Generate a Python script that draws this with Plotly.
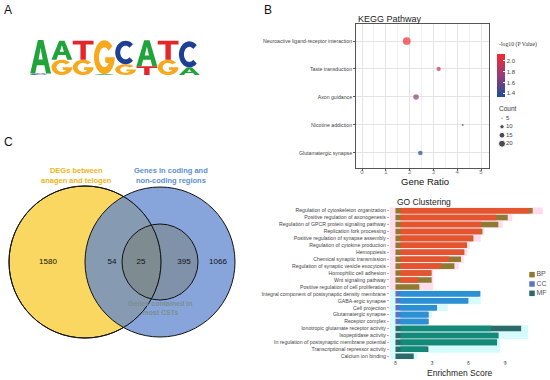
import math
import plotly.graph_objects as go

W, H = 550, 380
FONT = "Liberation Sans, Arial, Helvetica, sans-serif"
SERIF = "Liberation Serif, Times New Roman, serif"

# ---------------- data ----------------
# Panel A: motif logo, information content (bits) per letter
logo_positions = [1, 2, 3, 4, 5, 6, 7, 8]
logo_A = [1.86, 1.05, 0.00, 0.05, 0.00, 1.45, 0.00, 0.42]
logo_C = [0.08, 0.00, 0.00, 0.00, 1.30, 0.00, 0.00, 1.45]
logo_G = [0.00, 0.85, 0.85, 1.88, 0.60, 0.00, 0.85, 0.00]
logo_T = [0.00, 0.00, 1.05, 0.00, 0.00, 0.48, 1.05, 0.00]

# Panel B: KEGG pathway
kegg_terms = ["Neuroactive ligand-receptor interaction", "Taste transduction",
              "Axon guidance", "Nicotine addiction", "Glutamatergic synapse"]
kegg_ratio = [1.88, 3.22, 2.27, 4.23, 2.45]
kegg_logp = [2.12, 1.92, 1.72, 1.55, 1.34]
kegg_count = [24, 10, 14, 5, 11]
count_legend = [5, 10, 15, 20]
logp_ticks = [1.4, 1.6, 1.8, 2.0]

# Panel C: Venn
venn_titles = ["DEGs between<br>anagen and telogen",
               "Genes in coding and<br>non-coding regions",
               "Genes contained in<br>most CSTs"]
venn_counts = [1580, 54, 25, 395, 1066]

# GO clustering
go_terms = ["Regulation of cytoskeleton organization", "Positive regulation of axonogenesis",
            "Regulation of GPCR protein signaling pathway", "Replication fork processing",
            "Positive regulation of synapse assembly", "Regulation of cytokine production",
            "Hemopoiesis", "Chemical synaptic transmission",
            "Regulation of synaptic vesicle exocytosis", "Homophilic cell adhesion",
            "Wnt signaling pathway", "Positive regulation of cell proliferation",
            "Integral component of postsynaptic density membrane", "GABA-ergic synapse",
            "Cell projection", "Glutamatergic synapse", "Receptor complex",
            "Ionotropic glutamate receptor activity", "Isopeptidase activity",
            "In regulation of postsynaptic membrane potential",
            "Transcriptional repressor activity", "Calcium ion binding"]
go_class = ["BP"] * 12 + ["CC"] * 5 + ["MF"] * 5
go_score = [11.27, 9.22, 8.45, 7.14, 6.40, 5.88, 5.66, 5.38, 4.84, 2.97, 2.97, 1.96,
            6.97, 5.99, 3.41, 2.73, 2.73, 10.32, 8.45, 8.34, 2.70, 1.50]
go_inner = [11.00, 8.26, 7.03, 7.03, 6.34, 5.80, 5.60, 4.42, 3.74, 2.92, 1.82, 0.0,
            6.90, 5.93, 3.35, 2.64, 2.64, 7.85, 8.45, 8.34, 2.56, 0.0]
go_band = [12.1, 9.6, 8.8, 7.3, 7.0, 6.1, 5.9, 5.6, 5.2, 3.1, 3.1, 3.1,
           7.0, 7.0, 4.3, 3.0, 2.7, 10.9, 10.9, 8.6, 8.6, 1.8]
go_classes = ["BP", "CC", "MF"]

# ---------------- styles ----------------
LETTER_COLORS = {"A": "#21a33b", "C": "#1d3f95", "G": "#f7a81c", "T": "#e4262b"}
CLASS_BASE = {"BP": "#8f7a31", "CC": "#5a74c6", "MF": "#2e6a69"}
CLASS_TOP = {"BP": "#e5532f", "CC": "#2b91d4", "MF": "#13897a"}
CLASS_BAND = {"BP": "#ffdcec", "CC": "#d6fbfd", "MF": "#d6fbfd"}


def xd(a, b):
    return [a / W, b / W]


def yd(top, bottom):
    return [1 - bottom / H, 1 - top / H]


def arc(cx, cy, rx, ry, a0, a1, n=30):
    pts = []
    for k in range(n + 1):
        a = math.radians(a0 + (a1 - a0) * k / n)
        pts.append((cx + rx * math.cos(a), cy + ry * math.sin(a)))
    return pts


GLYPHS = {
    "A": [[(0, 0), (0.37, 1), (0.63, 1), (1, 0), (0.76, 0), (0.68, 0.25), (0.32, 0.25), (0.24, 0)],
          [(0.40, 0.42), (0.60, 0.42), (0.5, 0.76)]],
    "T": [[(0, 1), (1, 1), (1, 0.8), (0.63, 0.8), (0.63, 0), (0.37, 0), (0.37, 0.8), (0, 0.8)]],
    "C": [arc(0.5, 0.5, 0.5, 0.5, 45, 315) + arc(0.5, 0.5, 0.26, 0.29, 315, 45)],
    "G": [arc(0.5, 0.5, 0.5, 0.5, 40, 360) + [(0.54, 0.5), (0.54, 0.34)]
          + arc(0.5, 0.5, 0.26, 0.29, 322, 40)],
}


def kegg_size(c):
    lo, hi = min(kegg_count), max(kegg_count)
    return math.sqrt(4 + (c - lo) / (hi - lo) * 56)


fig = go.Figure()
shapes = []
annotations = []

# ---------------- Panel A: logo ----------------
fig.add_trace(go.Scatter(x=logo_positions, y=[0] * len(logo_positions), xaxis="x", yaxis="y",
                         mode="markers", marker=dict(opacity=0), hoverinfo="skip", showlegend=False))
for i, pos in enumerate(logo_positions):
    stack = [("A", logo_A[i]), ("C", logo_C[i]), ("G", logo_G[i]), ("T", logo_T[i])]
    stack = sorted([s for s in stack if s[1] > 0], key=lambda s: s[1])
    base = 0.0
    for letter, h in stack:
        x0, w = pos - 0.49, 0.98
        parts = []
        for poly in GLYPHS[letter]:
            parts.append("M " + " L ".join(f"{x0 + u * w:.4f},{base + v * h:.4f}" for u, v in poly) + " Z")
        shapes.append(dict(type="path", path=" ".join(parts), xref="x", yref="y",
                           fillcolor=LETTER_COLORS[letter], line=dict(width=0), layer="above"))
        base += h

# ---------------- Panel B: KEGG ----------------
fig.add_trace(go.Scatter(
    x=kegg_ratio, y=kegg_terms, xaxis="x2", yaxis="y2", mode="markers", showlegend=False,
    marker=dict(size=[kegg_size(c) for c in kegg_count], color=kegg_logp,
                colorscale=[[0, "#194f9a"], [0.5, "#973d77"], [1, "#f52a2e"]],
                cmin=1.33, cmax=2.13, line=dict(width=0), showscale=True,
                colorbar=dict(x=497 / W, xanchor="left", y=1 - 75.5 / H, yanchor="middle",
                              len=43, lenmode="pixels", thickness=8, thicknessmode="pixels",
                              outlinewidth=0, xpad=0, ypad=0, tickvals=logp_ticks,
                              ticktext=[f"{v:.1f}" for v in logp_ticks],
                              ticks="inside", ticklen=2, tickcolor="white",
                              tickfont=dict(size=6, color="#444", family=FONT)))))

# Count legend
fig.add_trace(go.Scatter(x=[5] * len(count_legend), y=list(range(len(count_legend))),
                         xaxis="x3", yaxis="y3", mode="markers", showlegend=False,
                         marker=dict(size=[kegg_size(c) for c in count_legend], color="black"),
                         hoverinfo="skip"))
fig.add_trace(go.Scatter(x=[9] * len(count_legend), y=list(range(len(count_legend))),
                         xaxis="x3", yaxis="y3", mode="text", showlegend=False,
                         text=[str(c) for c in count_legend], textposition="middle right",
                         textfont=dict(size=6, color="#444", family=FONT), hoverinfo="skip"))

# ---------------- Panel C: Venn ----------------
circles = [((85, 262, 76), "#fad760"),
           ((160, 262, 75), "rgba(95,135,205,0.75)"),
           ((160, 262, 38), "rgba(115,118,95,0.40)")]
for (cx, cy, r), col in circles:
    shapes.append(dict(type="circle", xref="x4", yref="y4", x0=cx - r, x1=cx + r,
                       y0=cy - r, y1=cy + r, fillcolor=col, line=dict(color="#111", width=1),
                       layer="below"))
# redraw yellow outline on top so it shows through the blue set
cx, cy, r = circles[0][0]
shapes.append(dict(type="circle", xref="x4", yref="y4", x0=cx - r, x1=cx + r, y0=cy - r, y1=cy + r,
                   fillcolor="rgba(0,0,0,0)", line=dict(color="#111", width=1), layer="below"))
venn_label_x = [48, 112, 141, 184, 218]
fig.add_trace(go.Scatter(x=venn_label_x, y=[262] * len(venn_counts), xaxis="x4", yaxis="y4",
                         mode="text", text=[str(v) for v in venn_counts], showlegend=False,
                         textfont=dict(size=8, color="#111", family=FONT), hoverinfo="skip"))
annotations += [
    dict(x=76, y=175.5, xref="x4", yref="y4", text=f"<b>{venn_titles[0]}</b>", showarrow=False,
         font=dict(size=7.5, color="#f4b416", family=FONT)),
    dict(x=171, y=175.5, xref="x4", yref="y4", text=f"<b>{venn_titles[1]}</b>", showarrow=False,
         font=dict(size=7.5, color="#5b8fd0", family=FONT)),
    dict(x=160, y=308, xref="x4", yref="y4", text=f"<b>{venn_titles[2]}</b>", showarrow=False,
         font=dict(size=7, color="#7c8e8f", family=FONT)),
]

# ---------------- GO clustering ----------------
idx = list(range(len(go_terms)))
fig.add_trace(go.Bar(y=idx, x=[b + 0.8 for b in go_band], base=-0.8, orientation="h", width=1.0,
                     xaxis="x5", yaxis="y5", showlegend=False, hoverinfo="skip",
                     marker=dict(color=[CLASS_BAND[c] for c in go_class], line=dict(width=0))))
fig.add_trace(go.Bar(y=idx, x=go_score, base=0, orientation="h", width=0.8,
                     xaxis="x5", yaxis="y5", showlegend=False,
                     marker=dict(color=[CLASS_BASE[c] for c in go_class], line=dict(width=0))))
fig.add_trace(go.Bar(y=idx, x=[max(v - 0.4, 0) for v in go_inner], base=0.4, orientation="h",
                     width=0.8, xaxis="x5", yaxis="y5", showlegend=False, hoverinfo="skip",
                     marker=dict(color=[CLASS_TOP[c] for c in go_class], line=dict(width=0))))
# GO legend
fig.add_trace(go.Scatter(x=[4] * 3, y=[0, 1, 2], xaxis="x6", yaxis="y6", mode="markers+text",
                         text=go_classes, textposition="middle right", showlegend=False,
                         textfont=dict(size=7, color="#555", family=FONT),
                         marker=dict(symbol="square", size=5.5,
                                     color=[CLASS_BASE[c] for c in go_classes]),
                         hoverinfo="skip"))

# ---------------- text annotations ----------------
annotations += [
    dict(x=8 / W, y=1 - 10 / H, xref="paper", yref="paper", text="A", showarrow=False,
         xanchor="center", yanchor="middle", font=dict(size=12, color="#111", family=FONT)),
    dict(x=268 / W, y=1 - 10 / H, xref="paper", yref="paper", text="B", showarrow=False,
         xanchor="center", yanchor="middle", font=dict(size=12, color="#111", family=FONT)),
    dict(x=8 / W, y=1 - 142 / H, xref="paper", yref="paper", text="C", showarrow=False,
         xanchor="center", yanchor="middle", font=dict(size=12, color="#111", family=FONT)),
    dict(x=356 / W, y=1 - 19 / H, xref="paper", yref="paper", text="KEGG Pathway", showarrow=False,
         xanchor="left", yanchor="middle", font=dict(size=9, color="#222", family=FONT)),
    dict(x=425 / W, y=1 - 181 / H, xref="paper", yref="paper", text="Gene Ratio", showarrow=False,
         xanchor="center", yanchor="middle", font=dict(size=9.5, color="#111", family=FONT)),
    dict(x=497 / W, y=1 - 44 / H, xref="paper", yref="paper", text="-log10 (P Value)",
         showarrow=False, xanchor="left", yanchor="middle",
         font=dict(size=5.8, color="#333", family=SERIF)),
    dict(x=497 / W, y=1 - 108 / H, xref="paper", yref="paper", text="Count", showarrow=False,
         xanchor="left", yanchor="middle", font=dict(size=6.5, color="#333", family=FONT)),
    dict(x=395 / W, y=1 - 202 / H, xref="paper", yref="paper", text="GO Clustering",
         showarrow=False, xanchor="left", yanchor="middle",
         font=dict(size=8.5, color="#222", family=FONT)),
    dict(x=459 / W, y=1 - 373 / H, xref="paper", yref="paper", text="Enrichmen Score",
         showarrow=False, xanchor="center", yanchor="middle",
         font=dict(size=8.5, color="#222", family=FONT)),
]

hidden = dict(visible=False, showgrid=False, zeroline=False, fixedrange=True)

fig.update_layout(
    width=W, height=H, margin=dict(l=0, r=0, t=0, b=0),
    paper_bgcolor="white", plot_bgcolor="white", barmode="overlay", showlegend=False,
    font=dict(family=FONT),
    shapes=shapes, annotations=annotations,
    # logo
    xaxis=dict(hidden, domain=xd(30, 200), range=[0.5, 8.5]),
    yaxis=dict(hidden, domain=yd(39, 75), range=[0, 2.0], anchor="x"),
    # KEGG
    xaxis2=dict(domain=xd(356, 489), range=[-0.252, 5.336], anchor="y2", dtick=1, tick0=0,
                showgrid=True, gridcolor="#e4e4e4", gridwidth=0.6, zeroline=False,
                minor=dict(dtick=0.5, tick0=0, showgrid=True, gridcolor="#f0f0f0", gridwidth=0.5),
                showline=True, mirror=True, linecolor="#555", linewidth=0.8,
                ticks="outside", ticklen=2, tickcolor="#555", ticklabelstandoff=-4,
                tickfont=dict(size=6, color="#777", family=FONT)),
    yaxis2=dict(domain=yd(24, 168), anchor="x2", type="category", categoryorder="array",
                categoryarray=kegg_terms, range=[4.536, -0.607], tickmode="array",
                tickvals=kegg_terms, showgrid=True, gridcolor="#e4e4e4", gridwidth=0.6,
                showline=True, mirror=True, linecolor="#555", linewidth=0.8,
                ticks="outside", ticklen=2, tickcolor="#555",
                tickfont=dict(size=5.2, color="#444", family=FONT)),
    # Count legend
    xaxis3=dict(hidden, domain=xd(497, 530), range=[0, 33]),
    yaxis3=dict(hidden, domain=yd(114, 148), range=[3.5, -0.5], anchor="x3"),
    # Venn (pixel-coordinate axes)
    xaxis4=dict(hidden, domain=xd(0, 270), range=[0, 270]),
    yaxis4=dict(hidden, domain=yd(130, 380), range=[380, 130], anchor="x4"),
    # GO
    xaxis5=dict(domain=xd(390, 545), range=[-0.45, 12.28], anchor="y5", tickmode="array",
                tickvals=[0, 3, 6, 9], showgrid=False, zeroline=False, showline=False,
                ticks="outside", ticklen=2, tickcolor="#999", ticklabelstandoff=-5,
                tickfont=dict(size=6, color="#777", family=FONT)),
    yaxis5=dict(domain=yd(207.2, 359.7), anchor="x5", range=[21.5, -0.5], tickmode="array",
                tickvals=idx, ticktext=go_terms, showgrid=False, zeroline=False, showline=False,
                ticks="outside", ticklen=2, tickcolor="#e89ac0",
                tickfont=dict(size=5.2, color="#444", family=FONT)),
    # GO legend
    xaxis6=dict(hidden, domain=xd(528, 550), range=[0, 22]),
    yaxis6=dict(hidden, domain=yd(270, 298), range=[2.5, -0.5], anchor="x6"),
)

fig.write_html("out.html", config={"displayModeBar": False},
               post_script="document.body.style.margin='0px';")
